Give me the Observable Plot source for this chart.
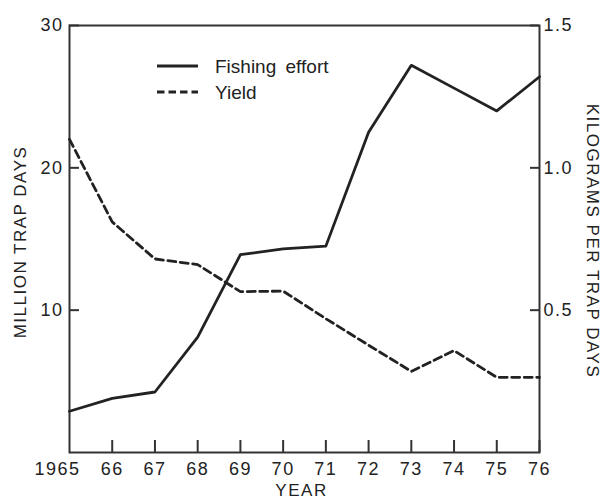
<!DOCTYPE html>
<html><head><meta charset="utf-8">
<script src="https://cdn.jsdelivr.net/npm/d3@7"></script>
<script src="https://cdn.jsdelivr.net/npm/@observablehq/plot@0.6"></script>
<style>
body{margin:0;background:#fff;}
svg text{font-family:'Liberation Sans',Arial,Helvetica,sans-serif;}
</style>
</head><body><div id="chart"></div>
<script>
const years = [1965,1966,1967,1968,1969,1970,1971,1972,1973,1974,1975,1976];
const effort = [2.9,3.8,4.25,8.1,13.9,14.3,14.5,22.5,27.2,25.6,24.0,26.4];
const yieldKg = [1.10,0.81,0.68,0.66,0.565,0.567,0.47,0.377,0.285,0.358,0.264,0.264];
const leftTicks = [10,20,30];
const rightTicks = [0.5,1.0,1.5];
const xTicks = [1966,1967,1968,1969,1970,1971,1972,1973,1974,1975,1976];
const xTickLabels = ["66","67","68","69","70","71","72","73","74","75","76"];
const firstYearLabel = ["1965"];
const seriesNames = ["Fishing effort","Yield"];
const xTitle = ["YEAR"];
const yLeftTitle = ["MILLION TRAP DAYS"];
const yRightTitle = ["KILOGRAMS PER TRAP DAYS"];

const ratio = 30 / 1.5;
const effortData = years.map((year, i) => ({year, value: effort[i]}));
const yieldData = years.map((year, i) => ({year, value: yieldKg[i] * ratio}));

const ink = "#222";
const frameInk = "#333";
const font = "'Liberation Sans', Arial, Helvetica, sans-serif";
const W = 603, H = 499, mL = 69, mR = 64, mT = 25, mB = 47;
const xDomain = [1965, 1976], yDomain = [0, 30];

// scales matching the plot, used to convert tick lengths (pixels) into data extents
const sx = Plot.scale({x: {domain: xDomain, range: [mL, W - mR]}});
const sy = Plot.scale({y: {domain: yDomain, range: [H - mB, mT]}});
const xTickTop = sy.invert(H - mB - 12);
const leftTickEnd = sx.invert(mL + 10);
const rightTickStart = sx.invert(W - mR - 9);

const plot = Plot.plot({
  width: W, height: H,
  marginLeft: mL, marginRight: mR, marginTop: mT, marginBottom: mB,
  style: {fontFamily: font, fontSize: "18px", color: ink, background: "#fff", letterSpacing: "1.5px"},
  x: {domain: xDomain},
  y: {domain: yDomain},
  marks: [
    Plot.ruleX(xTicks, {x: d => d, y1: yDomain[0], y2: xTickTop, stroke: frameInk, strokeWidth: 2}),
    Plot.ruleY(leftTicks, {y: d => d, x1: xDomain[0], x2: leftTickEnd, stroke: frameInk, strokeWidth: 2}),
    Plot.ruleY(rightTicks.map(v => v * ratio), {y: d => d, x1: rightTickStart, x2: xDomain[1], stroke: frameInk, strokeWidth: 2}),
    Plot.frame({stroke: frameInk, strokeWidth: 2}),
    Plot.axisX(xTicks, {tickSize: 0, tickPadding: 10, tickFormat: d => xTickLabels[xTicks.indexOf(d)], label: null, fill: ink}),
    Plot.axisX([years[0]], {tickSize: 0, tickPadding: 10, dx: -12, tickFormat: () => firstYearLabel[0], label: null, fill: ink}),
    Plot.axisY(leftTicks, {anchor: "left", tickSize: 0, tickPadding: 6, label: null, fill: ink}),
    Plot.axisY(rightTicks.map(v => v * ratio), {anchor: "right", tickSize: 0, tickPadding: 4, tickFormat: d => (d / ratio).toFixed(1), label: null, fill: ink}),
    Plot.lineY(effortData, {x: "year", y: "value", stroke: ink, strokeWidth: 2.8}),
    Plot.lineY(yieldData, {x: "year", y: "value", stroke: ink, strokeWidth: 2.8, strokeDasharray: "8,4.5"}),
    Plot.text(yLeftTitle, {text: d => d, frameAnchor: "left", textAnchor: "middle", lineAnchor: "middle", rotate: -90, dx: -49, dy: 3, fontSize: 17, fill: ink}),
    Plot.text(yRightTitle, {text: d => d, frameAnchor: "right", textAnchor: "middle", lineAnchor: "middle", rotate: 90, dx: 53, dy: 2, fontSize: 17, fill: ink}),
    Plot.text(xTitle, {text: d => d, frameAnchor: "bottom", textAnchor: "middle", lineAnchor: "middle", dx: -3, dy: 38.5, fontSize: 17, fill: ink})
  ]
});

const svg = d3.select(plot);
const lg = svg.append("g");
seriesNames.forEach((name, i) => {
  const y = 66 + i * 26;
  lg.append("line")
    .attr("x1", 157).attr("x2", 198).attr("y1", y).attr("y2", y)
    .attr("stroke", ink).attr("stroke-width", 2.8)
    .attr("stroke-dasharray", i ? "7.5,4" : null);
  lg.append("text")
    .attr("x", 215).attr("y", y + 7)
    .attr("text-anchor", "start")
    .attr("fill", ink)
    .style("font-size", "19px").style("letter-spacing", "0px").style("word-spacing", "4px")
    .text(name);
});

document.getElementById("chart").appendChild(plot);
</script>
</body></html>
